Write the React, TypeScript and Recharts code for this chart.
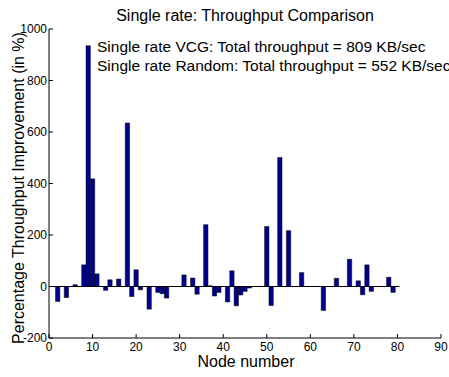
import React from 'react';
import { BarChart, Bar, XAxis, YAxis, ReferenceLine } from 'recharts';

// node ids 1..80 along the x axis
const nodes = Array.from({ length: 80 }, (_, i) => i + 1);

// percentage throughput improvement per node (10 per row)
const improvement = [
  0, -58, 0, -43, 0, 7, 0, 84, 935, 418,
  49, 0, -15, 26, 0, 29, 0, 635, -39, 65,
  -13, 0, -88, 0, -23, -28, -45, 0, 0, 0,
  45, 0, 33, -30, 0, 240, 3, -37, -23, 0,
  -60, 61, -75, -33, -19, -6, 0, 0, 0, 233,
  -74, 0, 501, 0, 217, 0, 0, 54, 0, 0,
  0, 0, -93, 0, 0, 32, 0, 0, 106, 0,
  22, -32, 84, -19, 0, 0, 0, 36, -23, 0,
];

const xTicks = [0, 10, 20, 30, 40, 50, 60, 70, 80, 90];
const yTicks = [-200, 0, 200, 400, 600, 800, 1000];

const titleText = 'Single rate: Throughput Comparison';
const noteLines = [
  'Single rate VCG: Total throughput = 809 KB/sec',
  'Single rate Random: Total throughput = 552 KB/sec',
];

const data = nodes.map((n, i) => ({ node: n, value: improvement[i] }));

const FONT = '"Liberation Sans", Arial, Helvetica, sans-serif';

export default function App() {
  return (
    <div style={{ position: 'absolute', left: 0, top: 0, width: 449, height: 377, background: '#fff', fontFamily: FONT }}>
      <BarChart
        width={449}
        height={377}
        data={data}
        margin={{ top: 29, right: 8, bottom: 9, left: 19 }}
      >
        <XAxis
          dataKey="node"
          type="number"
          domain={[0, 90]}
          ticks={xTicks}
          interval={0}
          height={30}
          tickSize={-4}
          tickMargin={8}
          axisLine={{ stroke: '#000', strokeWidth: 1 }}
          tickLine={{ stroke: '#000' }}
          tick={{ fill: '#000', fontSize: 12, fontFamily: FONT }}
        />
        <YAxis
          type="number"
          domain={[-200, 1000]}
          ticks={yTicks}
          interval={0}
          width={30}
          tickSize={-4}
          tickMargin={6}
          axisLine={{ stroke: '#000', strokeWidth: 1 }}
          tickLine={{ stroke: '#000' }}
          tick={{ fill: '#000', fontSize: 12, fontFamily: FONT }}
        />
        <Bar
          dataKey="value"
          barSize={4.35}
          fill="#00008F"
          stroke="#000"
          strokeWidth={0.5}
          isAnimationActive={false}
        />
        <ReferenceLine
          segment={[{ x: 0.5, y: 0 }, { x: 80.5, y: 0 }]}
          stroke="#000"
          strokeWidth={1}
        />
      </BarChart>

      {/* labels drawn over the chart */}
      <svg width={449} height={377} style={{ position: 'absolute', left: 0, top: 0, pointerEvents: 'none' }}>
        <text x={245} y={21} textAnchor="middle" fontSize={16} fontFamily={FONT} fill="#000">
          {titleText}
        </text>
        {noteLines.map((t, i) => (
          <text key={t} x={97} y={51.5 + i * 19} fontSize={15.5} fontFamily={FONT} fill="#000">
            {t}
          </text>
        ))}
        <text x={246} y={367} textAnchor="middle" fontSize={16} fontFamily={FONT} fill="#000">
          Node number
        </text>
        <text
          transform="translate(23.5,188) rotate(-90)"
          textAnchor="middle"
          fontSize={16}
          fontFamily={FONT}
          fill="#000"
        >
          Percentage Throughput Improvement (in %)
        </text>
      </svg>
    </div>
  );
}
